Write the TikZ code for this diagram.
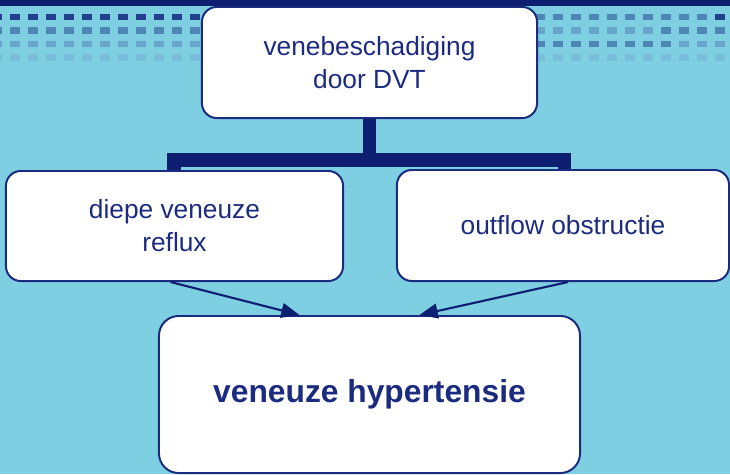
\documentclass[tikz,border=0pt]{standalone}
\usepackage{fontspec}
\setmainfont{Liberation Sans}
\usetikzlibrary{arrows.meta,calc}
\definecolor{sky}{HTML}{7DCFE1}
\definecolor{navy}{HTML}{0E1F72}
\definecolor{ink}{HTML}{1B2B80}
\definecolor{dotA}{HTML}{24418F}
\definecolor{dotB}{HTML}{4E86B6}
\definecolor{dotC}{HTML}{68A5CA}
\definecolor{dotD}{HTML}{78BDD9}

\begin{document}
\begin{tikzpicture}[
        x=0.025cm,y=-0.025cm,
        every node/.style={
            fill=white,draw=ink,line width=1.4pt,rectangle,
            rounded corners=10.5pt,text=ink,align=center,
            font=\fontsize{18.7}{23.4}\selectfont
        },
        bracket/.style={navy,line width=9.4pt},
        link/.style={navy,line width=1.5pt,-{Triangle[length=13pt,width=10.5pt]}}
    ]
% Background
    \useasboundingbox (0,0) rectangle (730,474);
    \fill[sky] (0,0) rectangle (730,474);
    \fill[navy] (0,0) rectangle (730,6);
% Dots
\foreach\x in {-8,10,...,190}{
    \fill[dotA] (\x,13.5) rectangle ++(10,6.5);
    \fill[dotB] (\x,27) rectangle ++(10,6.5);
    \fill[dotC] (\x,40.5) rectangle ++(10,6.5);
    \fill[dotD] (\x,54) rectangle ++(10,6.5);
}
\foreach\x in {535,553,...,715}{
    \fill[dotD] (\x,54) rectangle ++(10,6.5);
}
\foreach\x in {535,553,...,697}{
    \fill[dotB] (\x,13.5) rectangle ++(10,6.5);
}
    \fill[dotA] (715,13.5) rectangle ++(10,6.5);
\foreach\x in {535,553,...,643}{
    \fill[dotC] (\x,27) rectangle ++(10,6.5);
}
\foreach\x in {661,679,697,715}{
    \fill[dotB] (\x,27) rectangle ++(10,6.5);
}
\foreach\x in {535,553,...,661}{
    \fill[dotB] (\x,40.5) rectangle ++(10,6.5);
}
\foreach\x in {679,697,715}{
    \fill[dotC] (\x,40.5) rectangle ++(10,6.5);
}
% Boxes
    \node[minimum width=8.375cm,minimum height=2.775cm] (schade) at (369.5,62.5) {venebeschadiging\\door DVT};
    \node[minimum width=8.425cm,minimum height=2.75cm] (reflux) at (174.5,226) {diepe veneuze\\reflux};
    \node[minimum width=8.3cm,minimum height=2.775cm] (obstructie) at (563,225.5) {outflow obstructie};
    \node[minimum width=10.525cm,minimum height=3.925cm,rounded corners=14pt,
        font=\bfseries\fontsize{22.6}{27}\selectfont] (hypertensie) at (369.5,394.5) {veneuze hypertensie};
% Bracket
    \coordinate (barL) at (174,160);
    \coordinate (barR) at (564.5,160);
    \draw[bracket] (schade.south) -- (schade.south |- barL);
    \draw[bracket] (barL |- reflux.north) -- (barL) -- (barR) -- (barR |- obstructie.north);
% Arrows
    \draw[link] ($(reflux.south)+(-4,0)$) -- ($(hypertensie.north)+(-70,0)$);
    \draw[link] ($(obstructie.south)+(5,0)$) -- ($(hypertensie.north)+(50,0)$);
\end{tikzpicture}
\end{document}
